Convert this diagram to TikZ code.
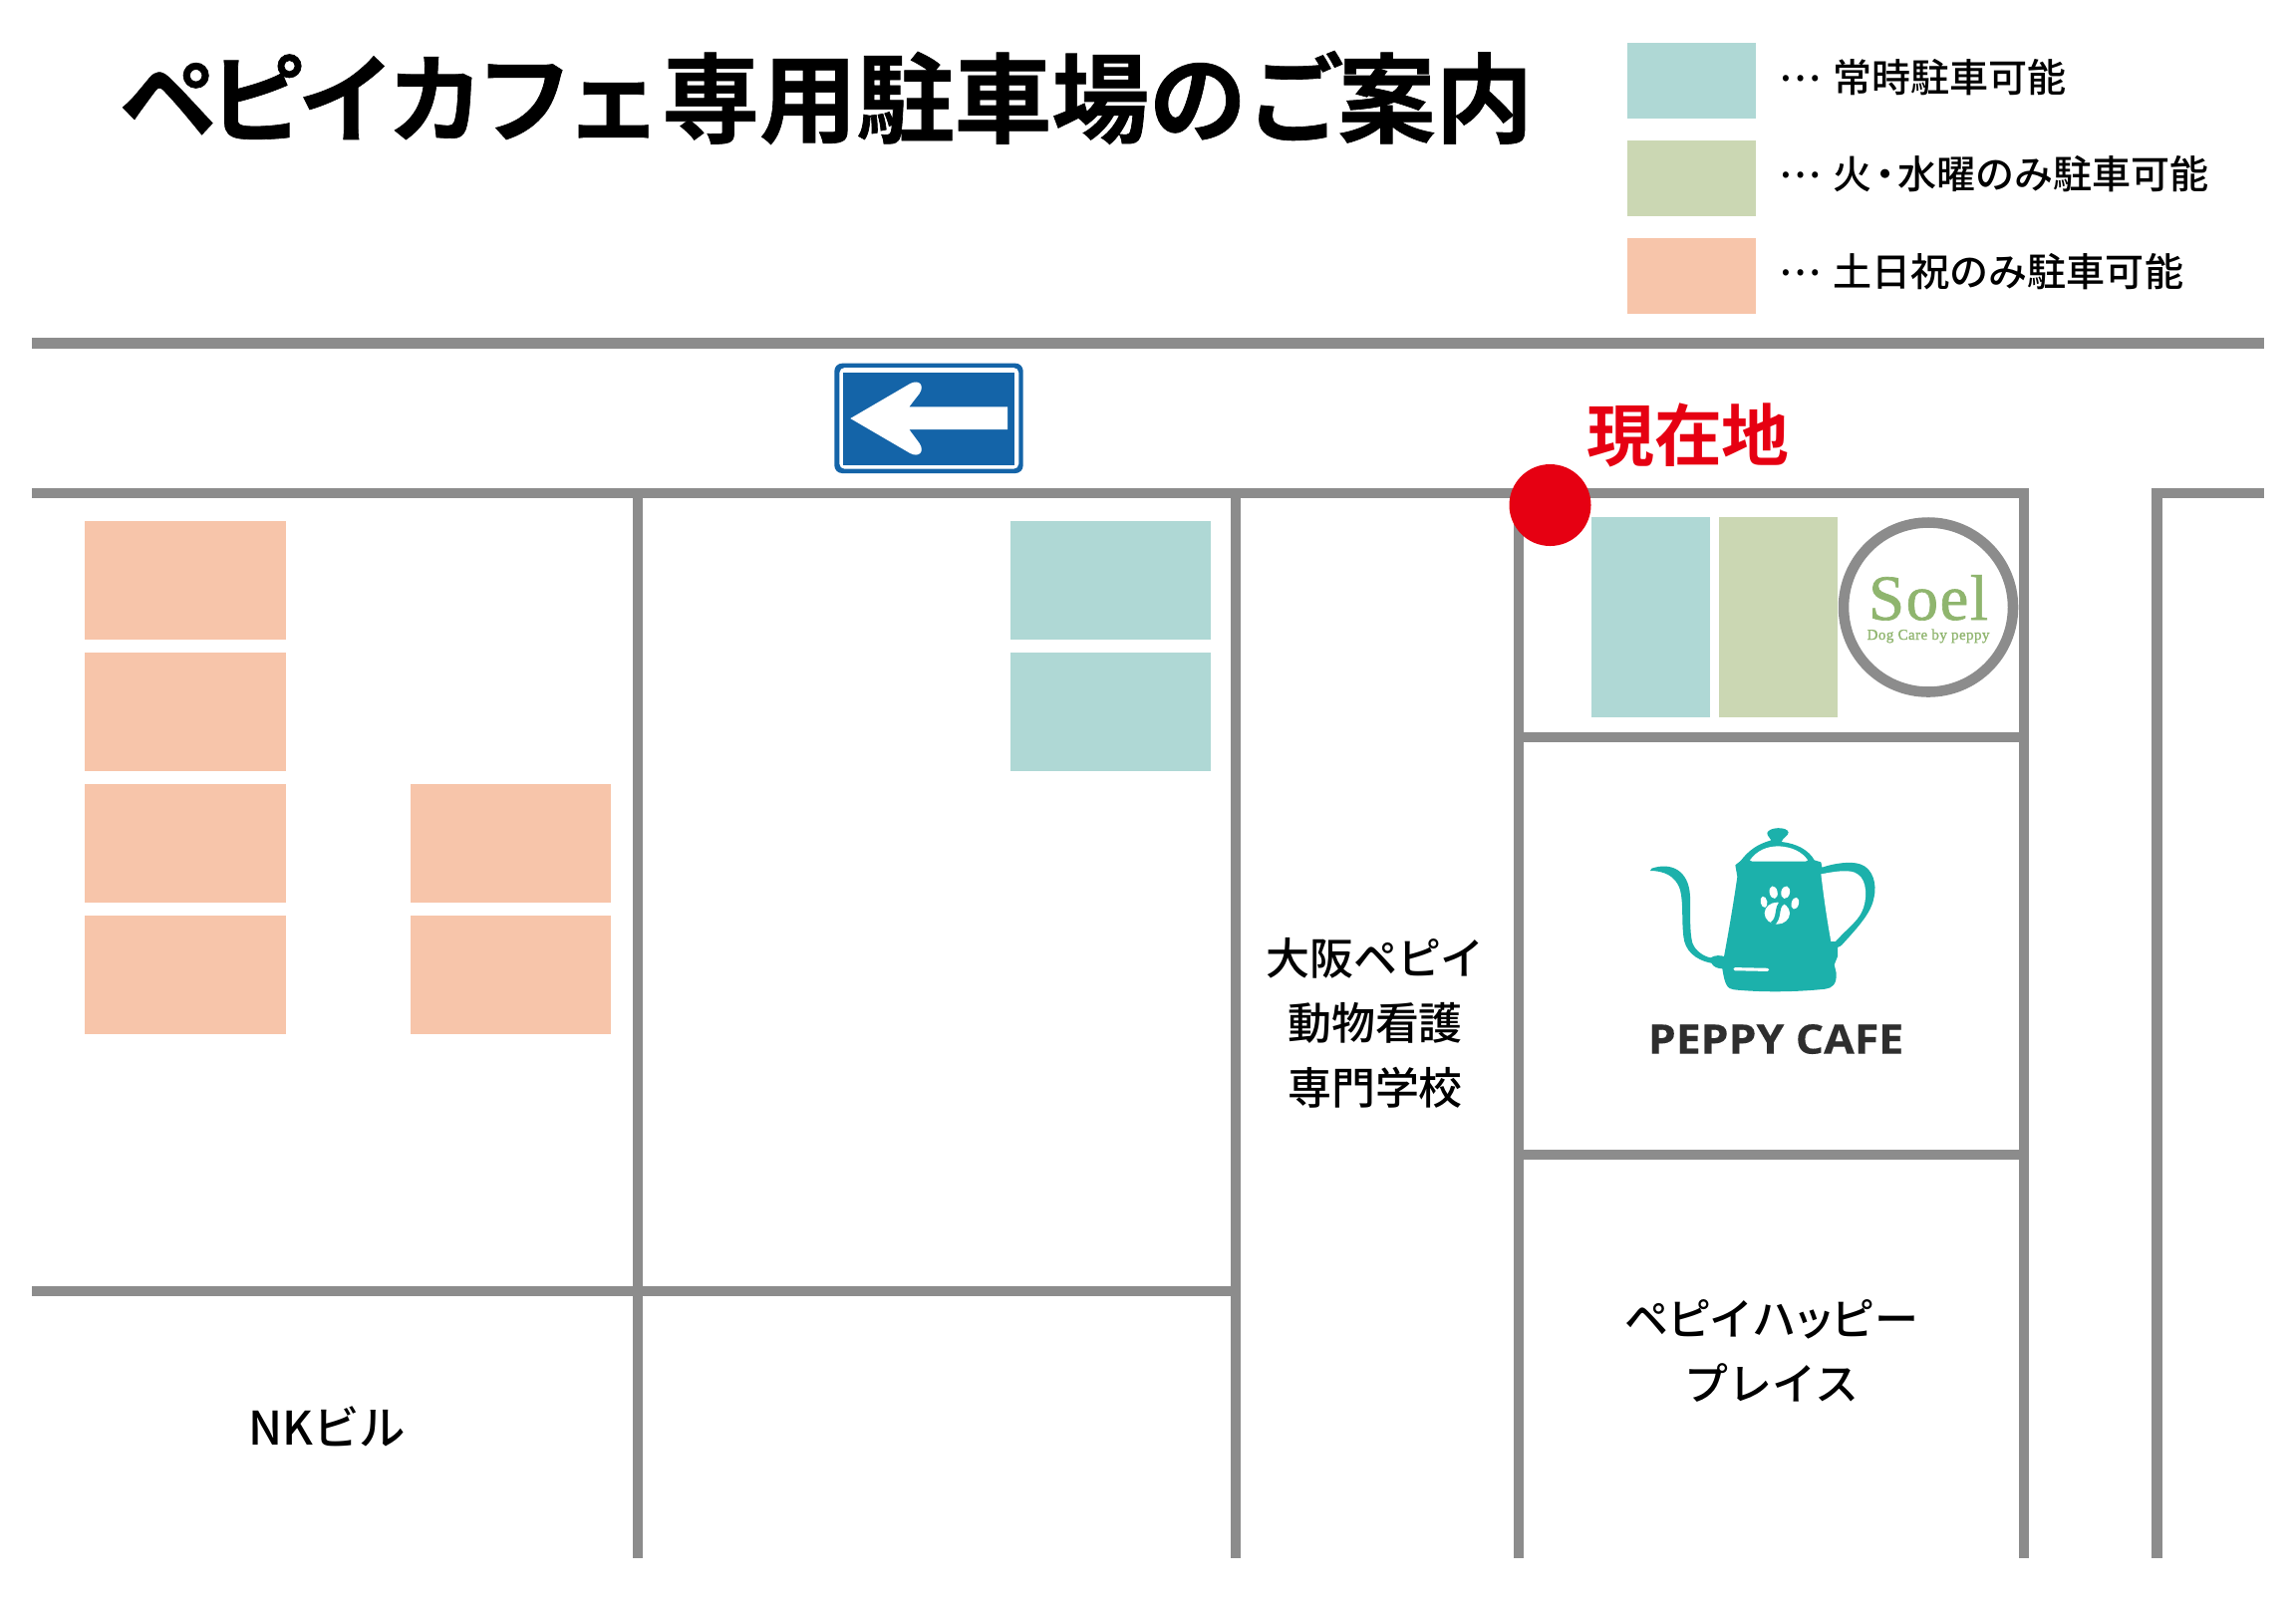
\documentclass[tikz,border=0pt]{standalone}
\usepackage{fontspec}
\setmainfont{Noto Sans CJK JP Medium}
\newfontfamily\titlefont{Noto Sans CJK JP Bold}[FakeBold=0.7]
\newfontfamily\titlekana{Noto Sans CJK JP Bold}[FakeBold=0.7,LetterSpace=-8.6]
\newfontfamily\herefont{Noto Sans CJK JP Bold}
\newfontfamily\serifont{Liberation Serif}[FakeBold=1,LetterSpace=2.5]
\newfontfamily\cafefont{Open Sans}[FakeStretch=1.09,FakeBold=0.3]
\definecolor{roadgray}{HTML}{8C8C8C}
\definecolor{lotteal}{HTML}{AFD8D5}
\definecolor{lotgreen}{HTML}{CBD7B3}
\definecolor{lotorange}{HTML}{F7C5AA}
\definecolor{herered}{HTML}{E60012}
\definecolor{signblue}{HTML}{1464A8}
\definecolor{kettleteal}{HTML}{1CB1AB}
\definecolor{soelgreen}{HTML}{8FB56E}
\newcommand{\legenddots}{\raisebox{0.3em}{…}\kern 3.4pt }
\begin{document}
\begin{tikzpicture}[x=0.01cm,y=-0.01cm,
    road/.style={draw=roadgray,line width=3pt},
    legendtext/.style={anchor=west,inner sep=0pt,font=\fontsize{11.1}{13}\selectfont},
    maptext/.style={inner sep=0pt,align=center,font=\fontsize{12.5}{18.5}\selectfont}]
    \useasboundingbox (0,0) rectangle (2304,1608);

    \fill[lotorange] (85,523) rectangle (287,642);
    \fill[lotorange] (85,655) rectangle (287,774);
    \fill[lotorange] (85,787) rectangle (287,906);
    \fill[lotorange] (85,919) rectangle (287,1038);
    \fill[lotorange] (412,787) rectangle (613,906);
    \fill[lotorange] (412,919) rectangle (613,1038);
    \fill[lotteal] (1014,523) rectangle (1215,642);
    \fill[lotteal] (1014,655) rectangle (1215,774);
    \fill[lotteal] (1597,519) rectangle (1716,720);
    \fill[lotgreen] (1725,519) rectangle (1844,720);

    \draw[road] (32,344.5) -- (2272,344.5);
    \draw[road] (32,495) -- (2036,495);
    \draw[road] (2164.5,1564) -- (2164.5,495) -- (2272,495);
    \draw[road] (640,495) -- (640,1564);
    \draw[road] (1240,495) -- (1240,1564);
    \draw[road] (1524,495) -- (1524,1564);
    \draw[road] (2031,495) -- (2031,1564);
    \draw[road] (1524,740) -- (2031,740);
    \draw[road] (1524,1159) -- (2031,1159);
    \draw[road] (32,1296) -- (1240,1296);

    \fill[lotteal] (1633,43) rectangle (1762,119);
    \fill[lotgreen] (1633,141) rectangle (1762,217);
    \fill[lotorange] (1633,239) rectangle (1762,315);
    \node[legendtext] (always) at (1785,78) {\legenddots 常時駐車可能};
    \node[legendtext] (weekday) at (1785,175) {\legenddots 火\kern-0.17em・\kern-0.17em 水曜のみ駐車可能};
    \node[legendtext] (holiday) at (1785,273) {\legenddots 土日祝のみ駐車可能};

    \node[inner sep=0pt,font=\fontsize{27.8}{30}\titlefont] (title) at (829,98) {{\titlekana ペピイカフェ}専用駐車場のご\kern-1.7pt 案内};

    \begin{scope}[shift={(820,350)},x=0.01cm/3,y=-0.01cm/3]
        \fill[signblue,rounded corners=2.2pt] (52,44) rectangle (620,375);
        \fill[white,rounded corners=1.5pt] (67,57) rectangle (607,362);
        \fill[signblue] (79,71) rectangle (595,350);
        \fill[white] (100,210) -- (280,105) .. controls (305,92) and (325,108) .. (308,135)
            -- (277,175) -- (573,175) -- (573,243) -- (277,243) -- (308,285)
            .. controls (325,312) and (305,328) .. (280,315) -- cycle;
    \end{scope}

    \node[inner sep=0pt,text=herered,font=\fontsize{19.3}{22}\herefont] (here) at (1694,437) {現在地};
    \fill[herered] (1555.5,507) circle (41);

    \draw[draw=roadgray,line width=3pt,fill=white] (1935,609.5) circle (85);
    \node[inner sep=0pt,anchor=base,text=soelgreen,font=\fontsize{18.4}{20}\serifont] (soel) at (1935,622) {Soel};
    \node[inner sep=0pt,anchor=base,text=soelgreen,font=\fontsize{4.3}{5}\serifont] (soelsub) at (1935,642) {Dog Care by peppy};

    \begin{scope}[shift={(1600,800)},x=0.01cm/3,y=-0.01cm/3]
        \fill[kettleteal] (520,108) .. controls (525,90) and (580,88) .. (584,106)
            .. controls (584,118) and (568,120) .. (563,135)
            .. controls (610,140) and (645,160) .. (662,190)
            -- (682,196) -- (685,212)
            .. controls (720,200) and (770,192) .. (800,202)
            .. controls (840,215) and (850,265) .. (842,300)
            .. controls (835,345) and (800,385) .. (745,445)
            .. controls (738,452) and (730,452) .. (732,452)
            -- (732,480) -- (722,505) -- (728,530)
            .. controls (730,565) and (715,575) .. (695,578)
            .. controls (600,588) and (500,588) .. (420,580)
            .. controls (400,578) and (392,565) .. (385,517)
            .. controls (370,516) and (358,512) .. (352,500)
            .. controls (300,490) and (272,460) .. (268,420)
            .. controls (262,370) and (268,320) .. (258,280)
            .. controls (245,235) and (205,222) .. (168,222)
            -- (172,215)
            .. controls (230,195) and (285,220) .. (288,300)
            .. controls (290,350) and (285,400) .. (295,440)
            .. controls (305,465) and (330,480) .. (350,484)
            .. controls (360,476) and (380,476) .. (390,480)
            .. controls (405,400) and (420,310) .. (430,240)
            -- (424,205) -- (440,192)
            .. controls (465,160) and (490,142) .. (532,130)
            .. controls (530,122) and (520,120) .. (520,108) -- cycle;
        \fill[white] (682,232) .. controls (720,225) and (770,215) .. (792,232)
            .. controls (822,250) and (822,310) .. (805,345)
            .. controls (792,375) and (750,405) .. (726,435)
            -- (712,435) .. controls (700,370) and (690,300) .. (682,232) -- cycle;
        \fill[kettleteal] (726,435) -- (712,435) -- (722,452) -- (732,452) -- cycle;
        \fill[kettleteal] (732,452) .. controls (724,448) and (722,438) .. (730,430) -- (745,445) -- cycle;
        \fill[white] (468,190) .. controls (490,160) and (520,148) .. (555,148)
            .. controls (595,150) and (625,165) .. (642,190) -- (635,194) -- (475,194) -- cycle;
        \draw[white,line width=0.9pt,line cap=round] (423,518) -- (521,520);
        \fill[white,rotate around={12:(539,287)}] (539,287) ellipse (12 and 19);
        \fill[white,rotate around={-12:(575,287)}] (575,287) ellipse (13 and 19);
        \fill[white,rotate around={12:(510,316)}] (510,316) ellipse (10 and 17);
        \fill[white,rotate around={-15:(604,320)}] (604,320) ellipse (11 and 18);
        \fill[white] (550,350) ellipse (38 and 33);
        \draw[kettleteal,line width=1.3pt] (566,318) .. controls (545,330) and (560,365) .. (535,382);
    \end{scope}
    \node[inner sep=0pt,text=black!82,font=\fontsize{11.6}{14}\cafefont\bfseries] (cafe) at (1782,1043) {PEPPY CAFE};

    \node[maptext] (school) at (1380,1027) {大阪ペピイ\\動物看護\\専門学校};
    \node[maptext] (happy) at (1778,1356) {ペ\kern-0.03em ピ\kern-0.03em イ\kern-0.03em ハ\kern-0.1em ッ\kern-0.1em ピー\\プレイス};
    \node[maptext,font=\fontsize{13.2}{18.5}\selectfont] (nk) at (328,1432) {NKビル};
\end{tikzpicture}
\end{document}
